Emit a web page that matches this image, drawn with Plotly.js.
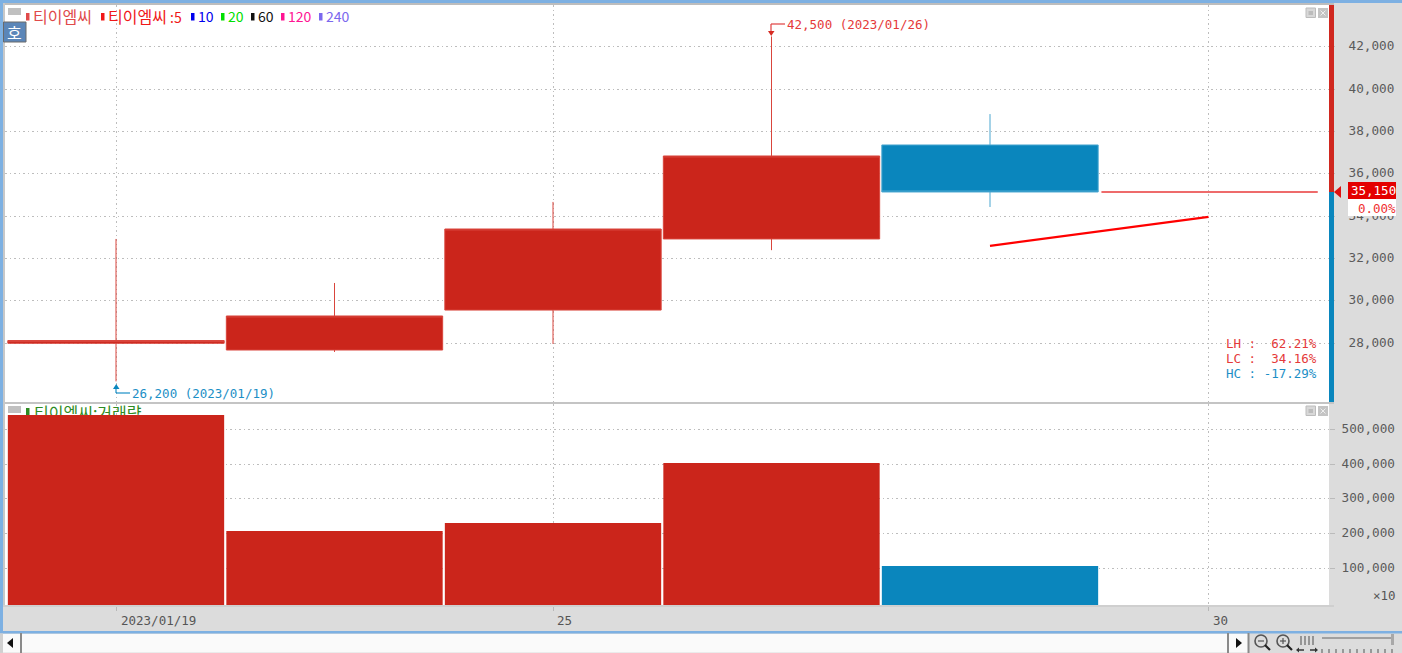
<!DOCTYPE html>
<html><head><meta charset="utf-8">
<script src="https://cdn.plot.ly/plotly-3.0.1.min.js"></script>
<style>html,body{margin:0;padding:0;background:#dcdcdc;overflow:hidden}#c{width:1402px;height:653px}</style>
</head><body><div id="c"></div>
<script>
// ---- data ----
var candleIdx = [0,1,2,3,4];
var opens  = [28000,27683,29570,32930,37370];
var highs  = [32930,30850,34680,42500,38830];
var lows   = [26200,27590,27970,32400,34440];
var closes = [28130,29290,33400,36850,35150];
var volumes = [541800,207000,230000,403000,106000];
var volColors = ['#cb251b','#cb251b','#cb251b','#cb251b','#0a86bd'];
var maIdx = [4,5];
var ma5 = [32600,33970];
var lastIdx = [4.51,5.5];
var lastPrice = [35150,35150];
var dateTickIdx = [0,2,5];
var dateLabels = ['2023/01/19','25','30'];
var priceTicks = [28000,30000,32000,34000,36000,38000,40000,42000];
var priceTickText = ['28,000','30,000','32,000','34,000','36,000','38,000','40,000','42,000'];
var volTicks = [100000,200000,300000,400000,500000];
var volTickText = ['100,000','200,000','300,000','400,000','500,000'];
var legendNames = ['티이엠씨','티이엠씨\u2009<span style="font-size:14px">:5</span>','10','20','60','120','240'];
var legendColors = ['#e04a4a','#f01818','#0000ee','#00e000','#111111','#ff1493','#7b68ee'];
var legendText = [33,108,198,228,258,288,326];
var legendBlock = [26,101,191,221,251,281,319];
var legendSize = [16,16,14,14,14,14,14];

// ---- layout helpers ----
var W=1402,H=653, FONT='"DejaVu Sans Mono", monospace', KR='"Noto Sans CJK KR", sans-serif';
function xp(x){return x/W} function yp(y){return 1-y/H}
var x0px=116, dx=218.5;
var xRange=[(5-x0px)/dx,(1329-x0px)/dx];
var yRange=[25226,43984];
var vRange=[-6500,573600];
function toX(px){return (px-x0px)/dx}
function toV(py){return 500000-(py-429.5)/0.0003465}

var shapes=[], ann=[];
function rect(x1,y1,x2,y2,fill,line){shapes.push({type:'rect',xref:'paper',yref:'paper',x0:xp(x1),x1:xp(x2),y0:yp(y2),y1:yp(y1),fillcolor:fill,line:{width:line?1:0,color:line||fill},layer:'above'})}
function seg(x1,y1,x2,y2,c,w){shapes.push({type:'line',xref:'paper',yref:'paper',x0:xp(x1),x1:xp(x2),y0:yp(y1),y1:yp(y2),line:{color:c,width:w||1},layer:'above'})}
function tri(pts,c){var d=pts.map(function(p,i){return (i?'L':'M')+xp(p[0])+','+yp(p[1])}).join(' ')+' Z';
  shapes.push({type:'path',xref:'paper',yref:'paper',path:d,fillcolor:c,line:{width:0},layer:'above'})}
function circ(cx,cy,r,c,w){shapes.push({type:'circle',xref:'paper',yref:'paper',x0:xp(cx-r),x1:xp(cx+r),y0:yp(cy+r),y1:yp(cy-r),line:{color:c,width:w},fillcolor:'rgba(0,0,0,0)',layer:'above'})}
function txt(x,y,s,c,anchor,size,fam){ann.push({xref:'paper',yref:'paper',x:xp(x),y:yp(y),text:s,showarrow:false,xanchor:anchor||'left',yanchor:'middle',font:{family:fam||FONT,size:size||12.5,color:c},borderpad:0,borderwidth:0,bgcolor:'rgba(0,0,0,0)'})}

// window chrome
rect(0,0,1402,3,'#7db0e2');
rect(0,0,3,632,'#7db0e2');
rect(3,3,1334,5,'#bdbdbd');
rect(3,402,1334,404,'#c4c4c4');
rect(3,605,1334,607,'#cfcfcf');
rect(3,3,5,605,'#c8c8c8');
// price strip and last price tag
rect(1329,5,1334,192,'#d0281f');
rect(1329,192,1334,402,'#0a86bd');
tri([[1334,192],[1341,186],[1341,198]],'#e01010');
rect(1348,182,1396,199,'#e40000');
rect(1348,199,1396,216,'#ffffff');
txt(1396,190.5,'35,150','#ffffff','right');
txt(1396,208,'0.00%','#f03030','right');
// top-left controls and legend
rect(8,8,21,15,'#c0c0c0');
rect(3.5,22,26,42,'#5b86b8','#6a6a6a');
txt(14.8,32,'호','#ffffff','center',16,KR);
legendNames.forEach(function(n,i){rect(legendBlock[i],13,legendBlock[i]+3.5,20.5,legendColors[i]);txt(legendText[i],16.5,n,legendColors[i],'left',legendSize[i],KR)});
// window buttons
[8,406].forEach(function(y){
  rect(1306,y,1315.5,y+9.5,'#d8d8d8','#bcbcbc');rect(1308.5,y+3,1313,y+7,'#bcbcbc');
  rect(1318,y,1328,y+10,'#c4c4c4');seg(1320.5,y+2.5,1325.5,y+7.5,'#eeeeee',1);seg(1325.5,y+2.5,1320.5,y+7.5,'#eeeeee',1);
});
rect(8,406,21,413,'#c0c0c0');
// extreme-value callouts
seg(771,24,785,24,'#e04040',1.2);seg(771,24,771,33,'#e04040',1.2);
tri([[768,31],[774.5,31],[771.2,36]],'#d62a22');
txt(787,25,'42,500 (2023/01/26)','#e53a3a','left');
seg(116,388,116,393,'#1c8fc6',1.2);seg(116,393,130,393,'#1c8fc6',1.2);
tri([[113,389],[119.5,389],[116.2,384]],'#0a86bd');
txt(132,393.5,'26,200 (2023/01/19)','#1c8fc6','left');
// LH / LC / HC stats
txt(1317,343,'LH :\u00a0\u00a062.21%','#e53a3a','right');
txt(1317,358,'LC :\u00a0\u00a034.16%','#e53a3a','right');
txt(1317,373,'HC : -17.29%','#1c8fc6','right');
txt(1396,595,'×10','#555555','right');
// date labels
var datePx=[121,557,1213];
dateLabels.forEach(function(s,i){txt(datePx[i],620,s,'#555555','left')});
// bottom scrollbar strip
rect(0,631,1402,633.5,'#7db0e2');
rect(0,634,1248,652.5,'#fafafa');
rect(0,633.5,3,652.9,'#d0d0d0');
seg(21,633,21,653,'#8a8a8a',2);seg(1228,633,1228,653,'#8a8a8a',2);seg(1248.5,633,1248.5,653,'#8a8a8a',2);
tri([[7,643],[13,638],[13,648]],'#111111');
tri([[1242,643],[1236,638],[1236,648]],'#111111');
// zoom icons
[1261,1283].forEach(function(cx,i){circ(cx,641,6,'#555555',1.6);seg(cx+4,645,cx+9,650,'#222222',2.2);seg(cx-3,641,cx+3,641,'#555555',1.2);if(i)seg(cx,638,cx,644,'#555555',1.2)});
[1301,1305,1309,1313].forEach(function(x){seg(x,636,x,645,'#666666',1.2)});
seg(1298,650,1304,650,'#333333',1.5);seg(1310,650,1316,650,'#333333',1.5);
tri([[1296,650],[1299,647.5],[1299,652.5]],'#333333');tri([[1318,650],[1315,647.5],[1315,652.5]],'#333333');
rect(1322,637,1391,639,'#a0a0a0');rect(1391,634,1394,645,'#a8a8a8');
var sliderTicks=[1322,1329,1336,1343,1350,1357,1364,1371,1378,1385,1392];
sliderTicks.forEach(function(x){seg(x,649,x,653,'#555555',1)});

// volume pane title sits under the bars so the first bar covers its lower part
shapes.push({type:'rect',xref:'x2',yref:'y2',x0:toX(26),x1:toX(29.5),y0:toV(416),y1:toV(408),fillcolor:'#2e8b22',line:{width:0},layer:'below'});
shapes.push({type:'rect',xref:'x2',yref:'y2',x0:toX(31),x1:toX(170),y0:toV(422),y1:toV(407),fillcolor:'rgba(0,0,0,0)',line:{width:0},layer:'below',
  label:{text:'티이엠씨:거래량',textposition:'middle left',font:{family:KR,size:16,color:'#2e8b22'},padding:0}});

// candles as precomputed boxes, so that the body can nearly fill its slot
function candleTrace(up,fill,edge){
  var idx=candleIdx.filter(function(i){return (closes[i]>=opens[i])===up});
  function pick(a){return idx.map(function(i){return a[i]})}
  return {type:'box',x:pick(candleIdx),
    q1:idx.map(function(i){return Math.min(opens[i],closes[i])}),
    median:pick(closes),
    q3:idx.map(function(i){return Math.max(opens[i],closes[i])}),
    lowerfence:pick(lows),upperfence:pick(highs),
    width:0.99,whiskerwidth:0,fillcolor:fill,line:{color:edge,width:1},boxpoints:false,
    xaxis:'x',yaxis:'y',hoverinfo:'skip',showlegend:false};
}
var traces=[
 candleTrace(true,'#cb251b','#d9453c'),
 candleTrace(false,'#0a86bd','#4aa6d0'),
 {type:'scatter',mode:'lines',x:maIdx,y:ma5,line:{color:'#ff0000',width:2.2},xaxis:'x',yaxis:'y',hoverinfo:'skip',showlegend:false},
 {type:'scatter',mode:'lines',x:lastIdx,y:lastPrice,line:{color:'#e83a3a',width:1.4},xaxis:'x',yaxis:'y',hoverinfo:'skip',showlegend:false},
 {type:'bar',x:candleIdx,y:volumes.map(function(v){return v-vRange[0]}),base:vRange[0],width:0.99,marker:{color:volColors,line:{width:0}},xaxis:'x2',yaxis:'y2',hoverinfo:'skip',showlegend:false}
];
var gridC='#bdbdbd', dash='1.5px,3px';
var xCommon={type:'linear',range:xRange,tickmode:'array',tickvals:dateTickIdx,showgrid:true,gridcolor:gridC,griddash:dash,gridwidth:1,zeroline:false,showline:false,showticklabels:false,domain:[xp(5),xp(1329)],fixedrange:true};
var yCommon={type:'linear',side:'right',showgrid:true,gridcolor:gridC,griddash:dash,gridwidth:1,zeroline:false,showline:false,ticks:'outside',ticklen:5,tickcolor:'#bbbbbb',tickfont:{family:FONT,size:12.7,color:'#5a5a5a'},ticklabelshift:-1,fixedrange:true};
var layout={width:W,height:H,margin:{l:0,r:0,t:0,b:0,pad:0},paper_bgcolor:'#dcdcdc',plot_bgcolor:'#ffffff',showlegend:false,boxmode:'overlay',boxgap:0.009,dragmode:false,hovermode:false,
 xaxis:Object.assign({},xCommon,{anchor:'y',ticks:''}),
 xaxis2:Object.assign({},xCommon,{anchor:'y2',ticks:'outside',ticklen:5,tickcolor:'#b8b8b8'}),
 yaxis:Object.assign({},yCommon,{anchor:'x',domain:[yp(402),yp(5)],range:yRange,tickmode:'array',tickvals:priceTicks,ticktext:priceTickText,ticklabelstandoff:11}),
 yaxis2:Object.assign({},yCommon,{anchor:'x2',domain:[yp(605),yp(404)],range:vRange,tickmode:'array',tickvals:volTicks,ticktext:volTickText,ticklabelstandoff:4}),
 shapes:shapes,annotations:ann};
Plotly.newPlot('c',traces,layout,{displayModeBar:false,staticPlot:true,responsive:false});
</script></body></html>
